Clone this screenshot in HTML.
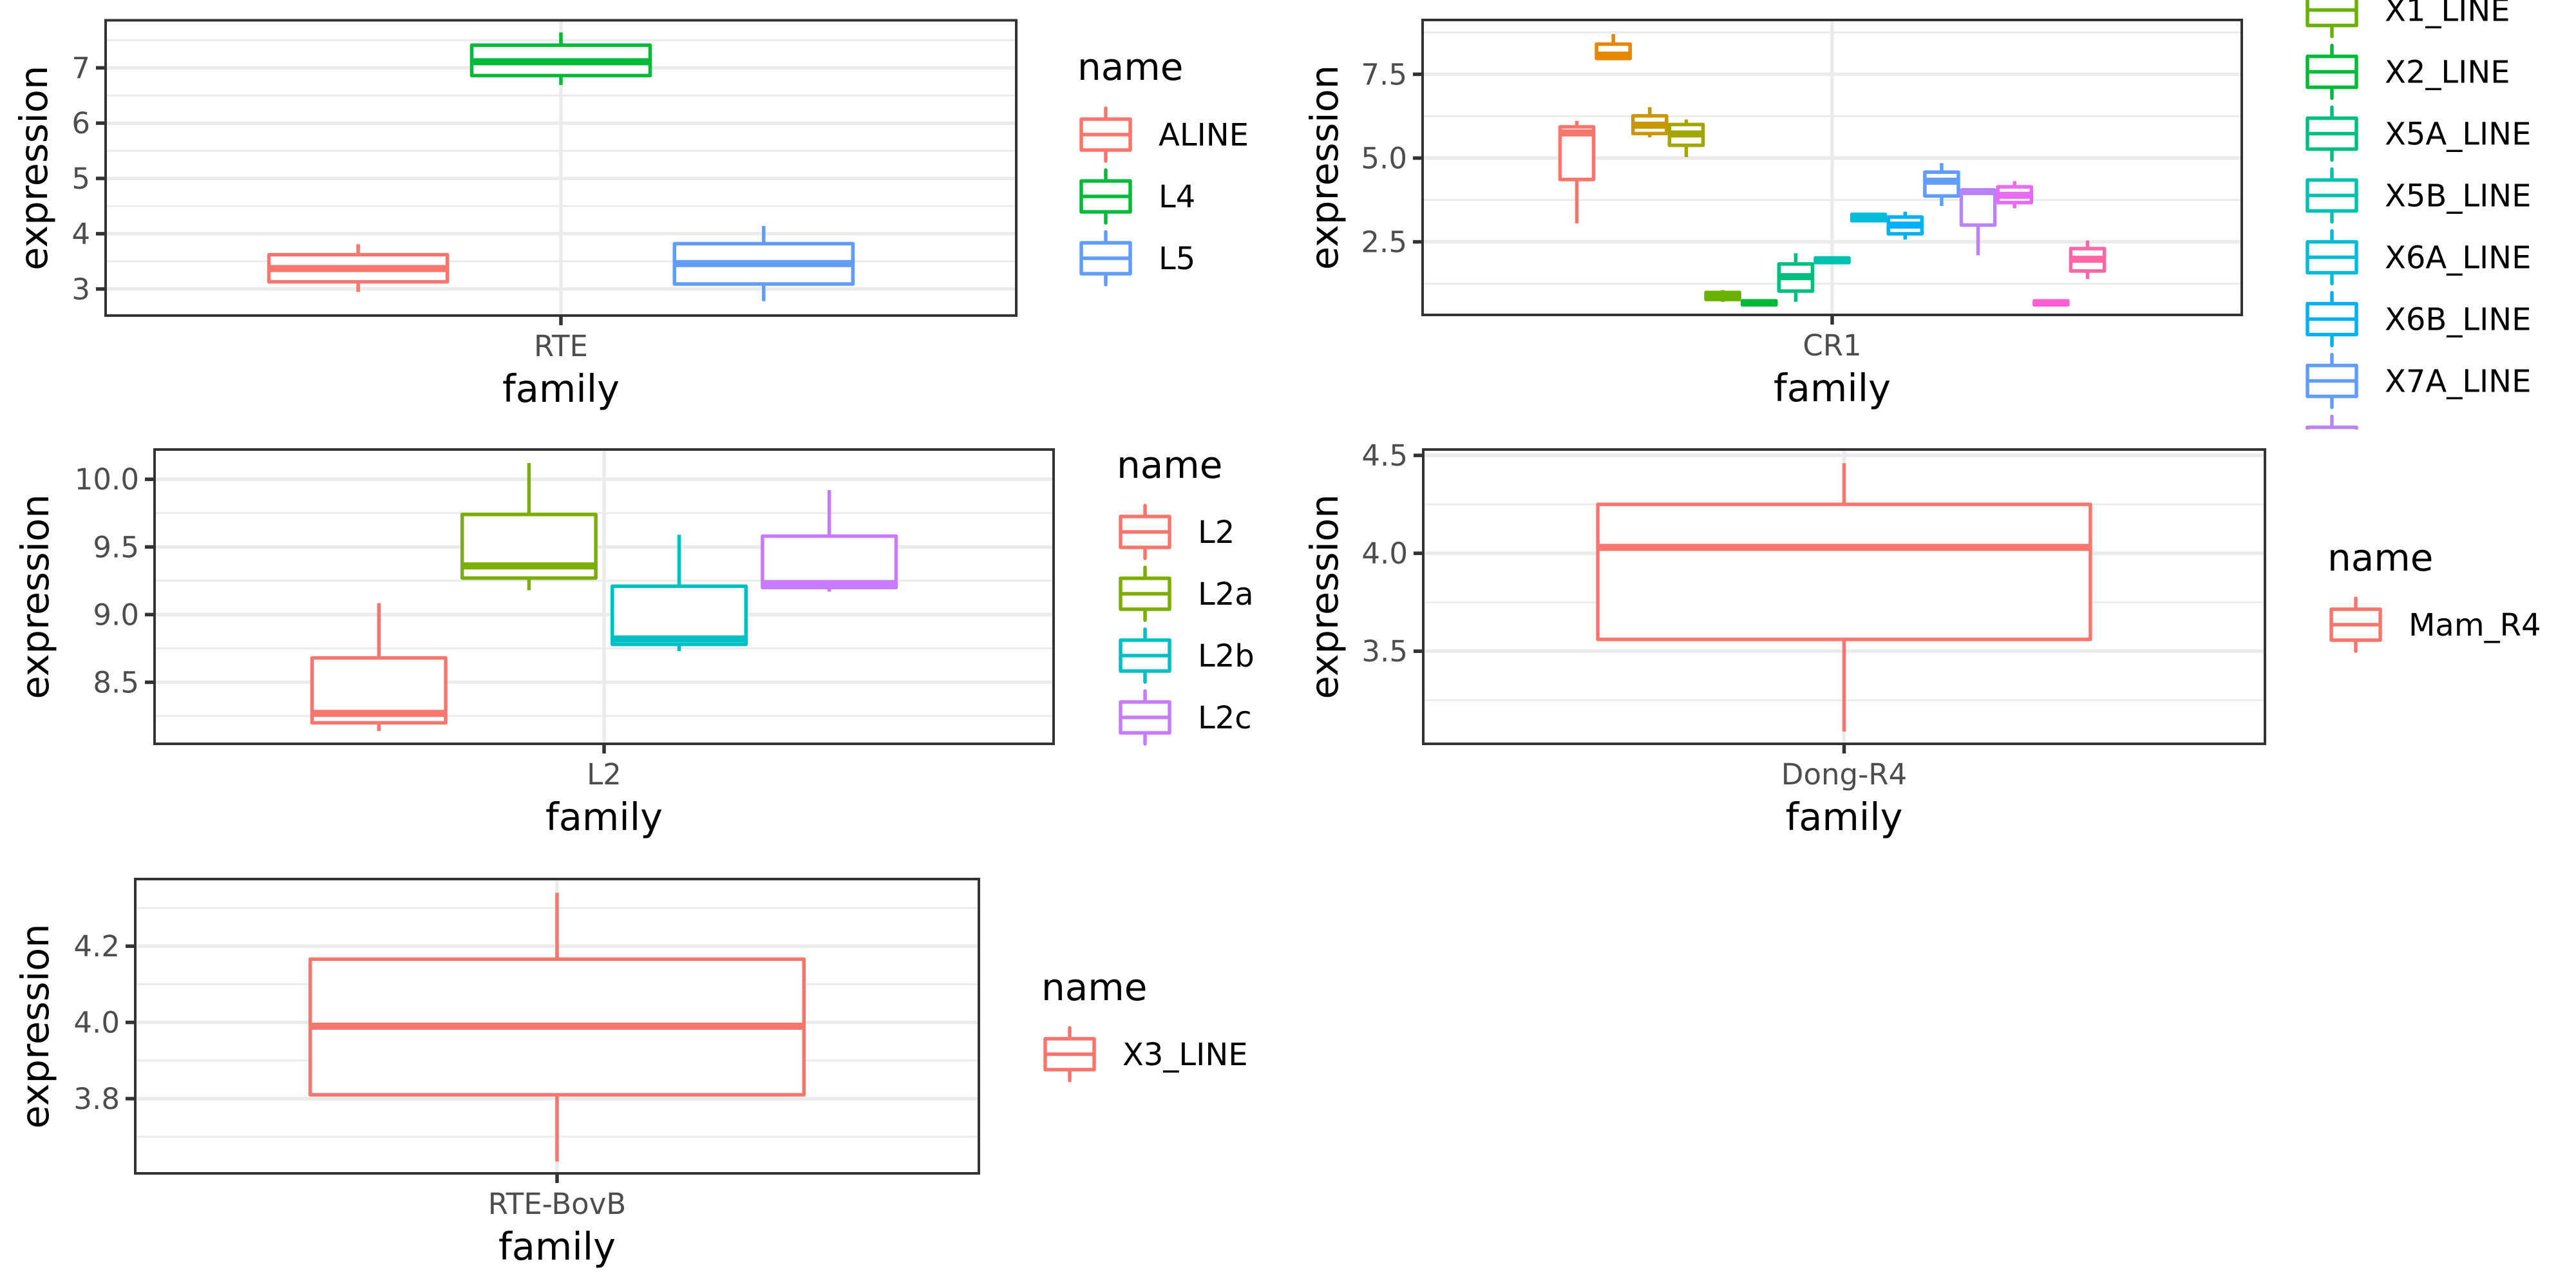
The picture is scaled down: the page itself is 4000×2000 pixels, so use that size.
<!DOCTYPE html>
<html><head><meta charset="utf-8"><style>
html,body{margin:0;padding:0;background:#fff;}
svg{display:block;}
text{font-family:"DejaVu Sans","Liberation Sans",sans-serif;}
</style></head><body>
<svg id="fig" xmlns="http://www.w3.org/2000/svg" width="4000" height="2000" viewBox="0 0 4000 2000">
<rect x="0" y="0" width="4000" height="2000" fill="#fff"/>
<defs><clipPath id="legclip"><rect x="3500" y="0" width="500" height="667"/></clipPath></defs>
</svg>
<script>
// ---- Panel 1 : RTE ----
const p1Names = ["ALINE","L4","L5"];
const p1Colors = ["#F8766D","#00BA38","#619CFF"];
const p1Lo  = [2.95, 6.69, 2.78];
const p1Q1  = [3.13, 6.86, 3.09];
const p1Med = [3.37, 7.11, 3.46];
const p1Q3  = [3.62, 7.41, 3.82];
const p1Hi  = [3.81, 7.64, 4.14];
const p1Ticks = [3,4,5,6,7];
const p1Minor = [3.5,4.5,5.5,6.5,7.5];

// ---- Panel 2 : CR1 ----
const p2Names = ["CR1_LINE","X10_LINE","X11_LINE","X12_LINE","X1_LINE","X2_LINE","X5A_LINE","X5B_LINE","X6A_LINE","X6B_LINE","X7A_LINE","X7B_LINE","X7C_LINE","X8_LINE","X9_LINE"];
const p2Colors = ["#F8766D","#E58700","#C99800","#A3A500","#6BB100","#00BA38","#00BF7D","#00C0AF","#00BCD8","#00B0F6","#619CFF","#B983FF","#E76BF3","#FD61D1","#FF67A4"];
const p2Lo  = [3.05, 7.95, 5.62, 5.03, 0.71, 0.60, 0.71, 1.86, 3.08, 2.57, 3.57, 2.10, 3.50, 0.60, 1.39];
const p2Q1  = [4.36, 7.97, 5.73, 5.38, 0.78, 0.62, 1.03, 1.88, 3.13, 2.74, 3.87, 3.00, 3.67, 0.62, 1.63];
const p2Med = [5.75, 8.07, 5.98, 5.72, 0.88, 0.68, 1.46, 1.95, 3.24, 3.00, 4.31, 4.00, 3.89, 0.68, 1.98];
const p2Q3  = [5.93, 8.40, 6.26, 6.00, 0.99, 0.74, 1.84, 2.02, 3.32, 3.24, 4.58, 4.04, 4.14, 0.74, 2.30];
const p2Hi  = [6.11, 8.70, 6.52, 6.15, 1.06, 0.76, 2.16, 2.03, 3.33, 3.40, 4.85, 4.04, 4.31, 0.76, 2.54];
const p2Ticks = [2.5,5.0,7.5];
const p2Minor = [1.25,3.75,6.25,8.75];

// ---- Panel 3 : L2 ----
const p3Names = ["L2","L2a","L2b","L2c"];
const p3Colors = ["#F8766D","#7CAE00","#00BFC4","#C77CFF"];
const p3Lo  = [8.14, 9.18, 8.73, 9.17];
const p3Q1  = [8.20, 9.27, 8.78, 9.20];
const p3Med = [8.27, 9.36, 8.82, 9.23];
const p3Q3  = [8.68, 9.74, 9.21, 9.58];
const p3Hi  = [9.085, 10.12, 9.59, 9.92];
const p3Ticks = [8.5,9.0,9.5,10.0];
const p3Minor = [8.25,8.75,9.25,9.75];

// ---- Panel 4 : Dong-R4 ----
const p4Names = ["Mam_R4"];
const p4Colors = ["#F8766D"];
const p4Lo  = [3.09];
const p4Q1  = [3.56];
const p4Med = [4.03];
const p4Q3  = [4.25];
const p4Hi  = [4.46];
const p4Ticks = [3.5,4.0,4.5];
const p4Minor = [3.25,3.75,4.25];

// ---- Panel 5 : RTE-BovB ----
const p5Names = ["X3_LINE"];
const p5Colors = ["#F8766D"];
const p5Lo  = [3.635];
const p5Q1  = [3.81];
const p5Med = [3.99];
const p5Q3  = [4.166];
const p5Hi  = [4.34];
const p5Ticks = [3.8,4.0,4.2];
const p5Minor = [3.7,3.9,4.1,4.3];

const NS = "http://www.w3.org/2000/svg";
const svg = document.getElementById('fig');
function mk(tag, attrs, parent){
  const e = document.createElementNS(NS, tag);
  for (const k in attrs) e.setAttribute(k, attrs[k]);
  (parent||svg).appendChild(e);
  return e;
}

function panel(cfg){
  const g = mk('g', {});
  
  
  const L=cfg.left,R=cfg.right,T=cfg.top,B=cfg.bottom;
  const y = v => B - (v - cfg.ymin)/(cfg.ymax - cfg.ymin)*(B-T);
  const cx = (L+R)/2;
  const n = cfg.names.length;
  const span = (R-L)*0.668*(n===1?0.876:1);
  const sp = n===1 ? span : span/n;
  const bw = n===1 ? span : sp*cfg.frac;
  const xc = i => n===1 ? cx : cx + (i-(n-1)/2)*sp;
  // minor grid
  cfg.minor.forEach(v=>{
    const l = mk('line',{x1:L,x2:R,y1:y(v),y2:y(v),stroke:'#EBEBEB','stroke-width':3},g);
    
    
  });
  cfg.ticks.forEach(v=>{
    const l = mk('line',{x1:L,x2:R,y1:y(v),y2:y(v),stroke:'#EBEBEB','stroke-width':5.5},g);
    
    
  });
  const vg = mk('line',{x1:cx,x2:cx,y1:T,y2:B,stroke:'#EBEBEB','stroke-width':5.5},g);
  
  
  // boxes
  for(let i=0;i<n;i++){
    const bg = mk('g',{},g);
    
    
    const c = cfg.colors[i], x = xc(i);
    mk('line',{x1:x,x2:x,y1:y(cfg.hi[i]),y2:y(cfg.q3[i]),stroke:c,'stroke-width':5.5},bg);
    mk('line',{x1:x,x2:x,y1:y(cfg.q1[i]),y2:y(cfg.lo[i]),stroke:c,'stroke-width':5.5},bg);
    mk('rect',{x:x-bw/2,y:y(cfg.q3[i]),width:bw,height:Math.max(0.5,y(cfg.q1[i])-y(cfg.q3[i])),fill:'#fff',stroke:c,'stroke-width':5.5,'stroke-linejoin':'round'},bg);
    mk('line',{x1:x-bw/2,x2:x+bw/2,y1:y(cfg.med[i]),y2:y(cfg.med[i]),stroke:c,'stroke-width':11},bg);
  }
  const border = mk('rect',{x:L,y:T,width:R-L,height:B-T,fill:'none',stroke:'#333','stroke-width':4},g);
  
  
  // y ticks
  cfg.ticks.forEach(v=>{
    mk('line',{x1:L-15,x2:L,y1:y(v),y2:y(v),stroke:'#333','stroke-width':5.5},g);
    const t = mk('text',{x:L-24,y:y(v)+16,'text-anchor':'end','font-size':45,fill:'#4D4D4D'},g);
    t.textContent = cfg.tickFmt(v);
    
    
  });
  // x tick
  mk('line',{x1:cx,x2:cx,y1:B,y2:B+15,stroke:'#333','stroke-width':5.5},g);
  const xt = mk('text',{x:cx,y:B+63,'text-anchor':'middle','font-size':45,fill:'#4D4D4D'},g);
  xt.textContent = cfg.family;
  
  
  const xl = mk('text',{x:cx,y:B+134,'text-anchor':'middle','font-size':59,fill:'#000'},g);
  xl.textContent = 'family';
  
  
  const yl = mk('text',{x:0,y:0,'text-anchor':'middle','font-size':59,fill:'#000',transform:`translate(${cfg.ytx},${(T+B)/2}) rotate(-90)`},g);
  yl.textContent = 'expression';
  
  
  // legend
  const lg = mk('g', cfg.clip ? {'clip-path':'url(#legclip)'} : {});
  
  
  if (cfg.legTitleY !== null){
    const lt = mk('text',{x:cfg.legX-6,y:cfg.legTitleY,'font-size':58,fill:'#000'},lg);
    lt.textContent = 'name';
    
    
  }
  for(let i=0;i<n;i++){
    const eg = mk('g',{},lg);
    
    
    const c = cfg.colors[i], ky = cfg.legY0 + i*96, kx = cfg.legX, kc = kx+38;
    mk('line',{x1:kc,x2:kc,y1:ky-41,y2:ky+41,stroke:c,'stroke-width':5.5,'stroke-linecap':'round'},eg);
    mk('rect',{x:kx,y:ky-24,width:76,height:48,fill:'#fff',stroke:c,'stroke-width':5.5,'stroke-linejoin':'round'},eg);
    mk('line',{x1:kx,x2:kx+76,y1:ky,y2:ky,stroke:c,'stroke-width':5.5},eg);
    const tx = mk('text',{x:kx+120,y:ky+17,'font-size':48,fill:'#000'},eg);
    tx.textContent = cfg.names[i];
  }
}

panel({id:'rte',names:p1Names,colors:p1Colors,lo:p1Lo,q1:p1Q1,med:p1Med,q3:p1Q3,hi:p1Hi,ticks:p1Ticks,minor:p1Minor,
  left:164,right:1578,top:31.5,bottom:490,ymin:2.52,ymax:7.86,frac:0.88,family:'RTE',ytx:73,
  tickFmt:v=>String(v),legX:1679,legTitleY:124,legY0:209,clip:false});
panel({id:'cr1',names:p2Names,colors:p2Colors,lo:p2Lo,q1:p2Q1,med:p2Med,q3:p2Q3,hi:p2Hi,ticks:p2Ticks,minor:p2Minor,
  left:2209,right:3481,top:31,bottom:489,ymin:0.32,ymax:9.12,frac:0.92,family:'CR1',ytx:2077,
  tickFmt:v=>v.toFixed(1),legX:3583,legTitleY:null,legY0:15.5-4*96,clip:true});
panel({id:'l2',names:p3Names,colors:p3Colors,lo:p3Lo,q1:p3Q1,med:p3Med,q3:p3Q3,hi:p3Hi,ticks:p3Ticks,minor:p3Minor,
  left:240,right:1636,top:698,bottom:1155,ymin:8.045,ymax:10.22,frac:0.89,family:'L2',ytx:75,
  tickFmt:v=>v.toFixed(1),legX:1740,legTitleY:742,legY0:826,clip:false});
panel({id:'dong-r4',names:p4Names,colors:p4Colors,lo:p4Lo,q1:p4Q1,med:p4Med,q3:p4Q3,hi:p4Hi,ticks:p4Ticks,minor:p4Minor,
  left:2210,right:3517,top:698,bottom:1155,ymin:3.027,ymax:4.53,frac:0.88,family:'Dong-R4',ytx:2077,
  tickFmt:v=>v.toFixed(1),legX:3620,legTitleY:886,legY0:970,clip:false});
panel({id:'rte-bovb',names:p5Names,colors:p5Colors,lo:p5Lo,q1:p5Q1,med:p5Med,q3:p5Q3,hi:p5Hi,ticks:p5Ticks,minor:p5Minor,
  left:210,right:1520,top:1365,bottom:1822,ymin:3.604,ymax:4.376,frac:0.88,family:'RTE-BovB',ytx:75,
  tickFmt:v=>v.toFixed(1),legX:1623,legTitleY:1553,legY0:1637,clip:false});
</script>
</body></html>
